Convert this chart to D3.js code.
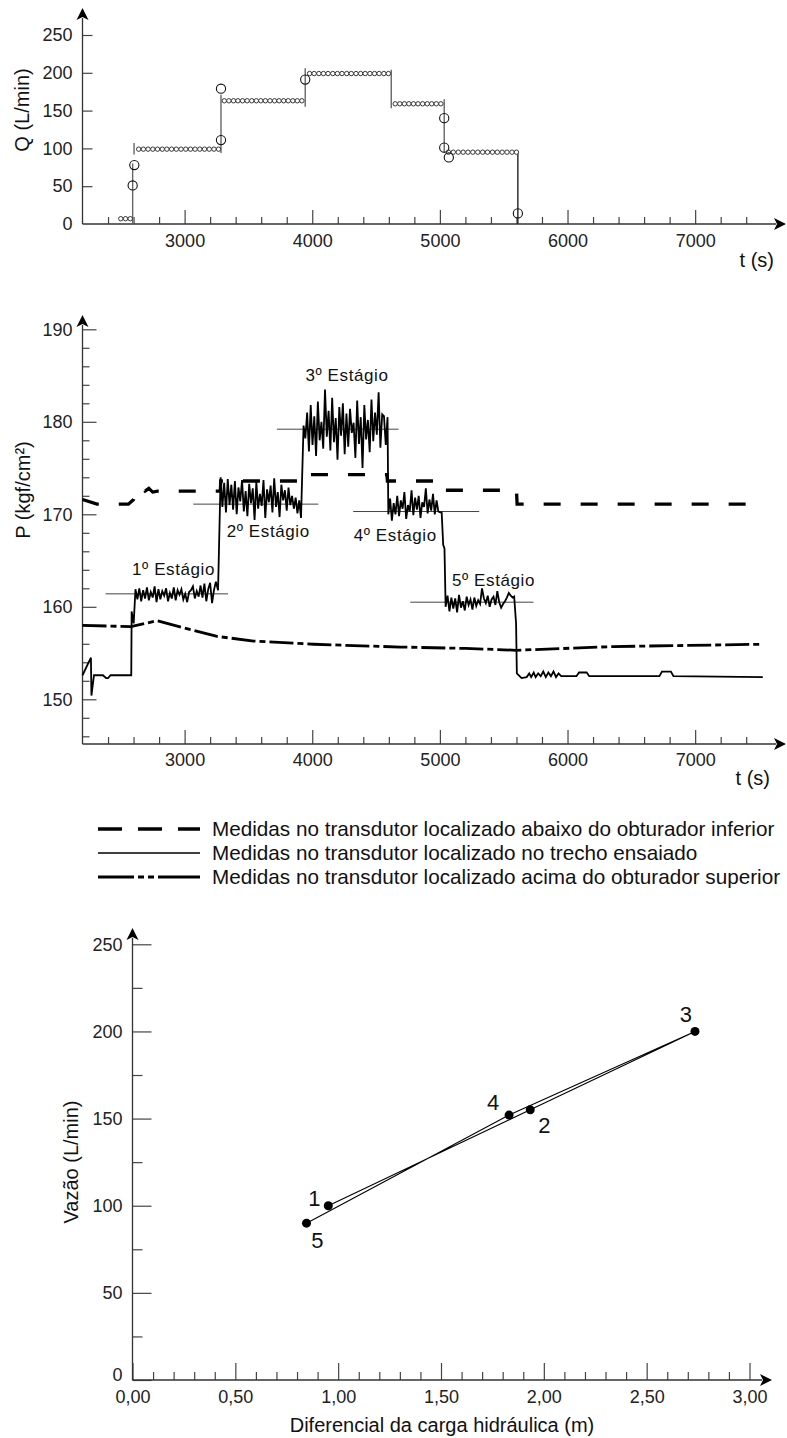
<!DOCTYPE html>
<html><head><meta charset="utf-8">
<script src="https://cdn.jsdelivr.net/npm/d3@7"></script>
<style>
body{margin:0;background:#fff;}
svg{display:block;}
</style></head><body>
<svg id="c" width="787" height="1438"></svg>
<script>
// ---------------- DATA ----------------
// time axis ticks (shared by charts 1 and 2)
const tMajorTicks = [3000, 4000, 5000, 6000, 7000];
const tMinorTicks = [2400, 2600, 2800, 3200, 3400, 3600, 3800, 4200, 4400, 4600, 4800, 5200, 5400, 5600, 5800, 6200, 6400, 6600, 6800, 7200, 7400];

// Chart 1: Q (L/min)
const qTicks = [0, 50, 100, 150, 200, 250];
const qLevelValues = [7, 99, 163, 199, 159, 95];
const qLevelTimes = [
  [2500, 2537, 2574],
  [2640, 2677, 2714, 2751, 2788, 2825, 2861, 2898, 2935, 2972, 3009, 3046, 3082, 3119, 3156, 3193, 3230, 3266],
  [3311, 3347, 3383, 3418, 3454, 3490, 3526, 3562, 3597, 3633, 3669, 3705, 3740, 3776, 3812, 3848, 3883, 3919],
  [3979, 4015, 4052, 4088, 4124, 4161, 4197, 4233, 4270, 4306, 4343, 4379, 4415, 4452, 4488, 4524, 4561, 4597],
  [4650, 4686, 4722, 4757, 4793, 4829, 4865, 4901, 4936, 4972, 5008],
  [5067, 5105, 5144, 5182, 5220, 5258, 5297, 5335, 5373, 5412, 5450, 5488, 5526, 5565, 5600]
];
const qStepT = [2593, 2604, 3285, 3945, 4619, 5034, 5611];
const qStepLow = [0, 92, 94, 155, 153, 94, 0];
const qStepHigh = [80, 107, 171, 206, 204, 165, 95];
const qTransT = [2593, 2606, 3285, 3285, 3945, 5034, 5034, 5070, 5611];
const qTransV = [51, 78, 111, 179, 191, 140, 101, 88, 14];

// Chart 2: P (kgf/cm2)
const pMajorTicks = [150, 160, 170, 180, 190];
const pMinorTicks = [146, 148, 152, 154, 156, 158, 162, 164, 166, 168, 172, 174, 176, 178, 182, 184, 186, 188];

// below lower packer (dashed)
const lowerT = [2200, 2314, 2560, 2600, 2627, 2660, 2690, 2720, 2750, 2790, 3280, 3283, 3922, 3926, 4585, 4589, 5010, 5025, 5030, 5600, 5605, 7530];
const lowerP = [171.6, 171.1, 171.1, 171.6, 172.8, 172.9, 172.5, 172.8, 172.4, 172.5, 172.5, 173.6, 173.6, 174.3, 174.3, 173.6, 173.6, 173.0, 172.6, 172.6, 171.1, 171.1];

// above upper packer (dash-dot)
const upperT = [2200, 2580, 2785, 3000, 3254, 3540, 4010, 4690, 5200, 5600, 6355, 7530];
const upperP = [158.0, 157.85, 158.5, 157.7, 156.8, 156.3, 155.95, 155.65, 155.5, 155.3, 155.7, 155.95];

// tested section (solid): transitions and noisy stages
const testPreT = [2200, 2266, 2270, 2290, 2360, 2385, 2400, 2420, 2582, 2585, 2601];
const testPreP = [152.6, 154.5, 150.4, 152.6, 152.6, 152.3, 152.3, 152.6, 152.6, 159.5, 158.2];
const stage1T0 = 2615, stage1Dt = 15;
const stage1P = [161.9, 160.8, 162.0, 160.6, 161.8, 160.9, 162.1, 160.7, 161.6, 161.0, 162.2, 160.5, 161.9, 160.8, 161.7, 161.2, 162.0, 160.6, 161.5, 160.9, 162.1, 160.7, 161.8, 161.3, 161.9, 160.8, 161.4, 160.5, 161.6, 161.8, 162.2, 160.9, 161.7, 161.1, 162.3, 161.0, 162.5, 160.6, 161.9, 162.6, 160.4, 161.8, 162.7];
const rise12T = [3262];
const rise12P = [161.8];
const stage2T0 = 3282, stage2Dt = 14;
const stage2P = [174.0, 170.8, 173.4, 170.2, 173.8, 171.0, 173.2, 170.5, 173.6, 170.0, 172.9, 171.4, 173.7, 170.3, 172.5, 169.8, 173.3, 171.2, 172.8, 169.4, 173.5, 170.6, 172.2, 170.9, 173.7, 169.6, 172.7, 171.3, 173.1, 170.2, 173.9, 170.8, 172.4, 169.7, 173.2, 171.5, 172.6, 170.4, 172.9, 171.0, 172.0, 170.6, 171.8, 170.1, 171.5, 169.6];
const stage3T0 = 3932, stage3Dt = 14;
const stage3P = [179.6, 178.2, 181.0, 176.8, 181.8, 177.5, 180.6, 176.3, 182.2, 178.0, 180.0, 177.1, 183.5, 178.4, 181.2, 176.9, 182.6, 177.8, 180.4, 175.9, 181.6, 178.5, 182.0, 176.5, 180.9, 177.3, 181.4, 178.8, 179.9, 176.1, 182.3, 177.6, 180.5, 175.0, 181.8, 178.1, 180.2, 176.7, 182.4, 177.9, 181.0, 178.6, 183.2, 177.2, 180.8, 180.6, 177.5, 180.5];
const stage4T0 = 4596, stage4Dt = 14;
const stage4P = [170.0, 171.7, 169.3, 171.2, 170.0, 172.0, 169.8, 171.5, 170.6, 172.4, 169.5, 171.0, 170.3, 172.6, 169.9, 171.8, 170.5, 172.0, 169.6, 171.3, 170.8, 172.8, 170.1, 171.6, 170.4, 172.2, 170.0, 171.5, 170.3, 170.2];
const drop45T = [5014, 5026, 5036];
const drop45P = [170.2, 166.7, 166.3];
const stage5T0 = 5045, stage5Dt = 15;
const stage5P = [160.0, 161.2, 159.5, 161.0, 159.8, 160.9, 159.4, 161.3, 159.9, 160.6, 159.6, 161.1, 160.2, 160.8, 159.7, 161.0, 160.1, 160.7, 160.3, 162.0, 160.9, 160.4, 161.2, 160.0, 160.8, 161.1, 160.2, 161.7, 160.5, 159.9, 160.3, 160.6, 161.0, 161.5, 161.2, 161.0];
const testPostT = [5582, 5597, 5603, 5640, 5680, 5700, 5715, 5735, 5750, 5770, 5790, 5810, 5830, 5850, 5870, 5890, 5910, 5930, 5950, 6070, 6090, 6150, 6170, 6720, 6740, 6810, 6830, 7530];
const testPostP = [161.1, 158.2, 152.8, 152.3, 152.4, 152.8, 152.4, 152.9, 152.4, 152.8, 152.5, 153.0, 152.4, 152.9, 152.5, 153.0, 152.4, 152.8, 152.5, 152.5, 152.9, 152.9, 152.5, 152.5, 153.0, 153.0, 152.5, 152.4];

// stage mean reference lines
const stageMeanP = [161.4, 171.1, 179.2, 170.3, 160.5];
const stageMeanT0 = [2380, 3068, 3723, 4321, 4768];
const stageMeanT1 = [3340, 4048, 4676, 5308, 5733];
const stageLabels = ["1º Estágio", "2º Estágio", "3º Estágio", "4º Estágio", "5º Estágio"];
const stageLabelT = [2913, 3655, 4272, 4650, 5420];
const stageLabelP = [163.4, 167.6, 184.4, 167.1, 162.2];

const legendLabels = [
  "Medidas no transdutor localizado abaixo do obturador inferior",
  "Medidas no transdutor localizado no trecho ensaiado",
  "Medidas no transdutor localizado acima do obturador superior"
];

// Chart 3: flow vs head differential
const pointNames = ["1", "2", "3", "4", "5"];
const headDiff = [0.952, 1.934, 2.735, 1.831, 0.846];
const flowRate = [100, 155, 200, 152, 90];
const hMajorTicks = [0, 0.5, 1.0, 1.5, 2.0, 2.5, 3.0];
const hMinorTicks = [0.1, 0.2, 0.3, 0.4, 0.6, 0.7, 0.8, 0.9, 1.1, 1.2, 1.3, 1.4, 1.6, 1.7, 1.8, 1.9, 2.1, 2.2, 2.3, 2.4, 2.6, 2.7, 2.8, 2.9];
const vMajorTicks = [0, 50, 100, 150, 200, 250];
const vMinorTicks = [25, 75, 125, 175, 225];

// ---------------- DRAWING ----------------
const FONT = '"Liberation Sans", Arial, Helvetica, sans-serif';
const svg = d3.select("#c").attr("font-family", FONT);

const xT = d3.scaleLinear().domain([2200, 7700]).range([82.5, 784.5]);
const yQ = d3.scaleLinear().domain([0, 250]).range([224, 35]);
const yP = d3.scaleLinear().domain([150, 190]).range([699.3, 329.3]);
const xH = d3.scaleLinear().domain([0, 3]).range([132.5, 749.5]);
const yV = d3.scaleLinear().domain([0, 250]).range([1380, 944.3]);

const AX = "#333";

function arrowUp(x, tip) {
  svg.append("path").attr("d", `M${x},${tip} L${x + 6},${tip + 12} L${x},${tip + 9} L${x - 6},${tip + 12} Z`).attr("fill", "#000");
}
function arrowRight(tip, y) {
  svg.append("path").attr("d", `M${tip},${y} L${tip - 12},${y - 6} L${tip - 9},${y} L${tip - 12},${y + 6} Z`).attr("fill", "#000");
}
function axisLine(x1, y1, x2, y2) {
  svg.append("line").attr("x1", x1).attr("y1", y1).attr("x2", x2).attr("y2", y2)
    .attr("stroke", AX).attr("stroke-width", 1.3);
}
function styleAxis(g) {
  g.select(".domain").remove();
  g.attr("font-size", 18).attr("font-family", FONT).attr("color", "#222");
  g.selectAll("line").attr("stroke", "#444").attr("stroke-width", 1.2);
}
function bottomAxis(scale, y, majors, minors, fmt, majLen, minLen, pad) {
  const g2 = svg.append("g").attr("transform", `translate(0,${y})`);
  g2.call(d3.axisBottom(scale).tickValues(minors).tickFormat("").tickSize(-minLen).tickSizeOuter(0));
  styleAxis(g2);
  const g = svg.append("g").attr("transform", `translate(0,${y})`);
  g.call(d3.axisBottom(scale).tickValues(majors).tickFormat(fmt).tickSize(-majLen).tickSizeOuter(0).tickPadding(pad));
  styleAxis(g);
}
function leftAxis(scale, x, majors, minors, fmt, majLen, minLen, pad) {
  if (minors) {
    const g2 = svg.append("g").attr("transform", `translate(${x},0)`);
    g2.call(d3.axisLeft(scale).tickValues(minors).tickFormat("").tickSize(-minLen).tickSizeOuter(0));
    styleAxis(g2);
  }
  const g = svg.append("g").attr("transform", `translate(${x},0)`);
  g.call(d3.axisLeft(scale).tickValues(majors).tickFormat(fmt).tickSize(-majLen).tickSizeOuter(0).tickPadding(pad));
  styleAxis(g);
  return g;
}
function title(text, x, y, rotate, anchor) {
  const t = svg.append("text").text(text).attr("font-size", 20).attr("fill", "#111")
    .attr("text-anchor", anchor || "middle");
  if (rotate) t.attr("transform", `translate(${x},${y}) rotate(-90)`).attr("dy", "0.35em");
  else t.attr("x", x).attr("y", y);
}

// ===== Chart 1 =====
bottomAxis(xT, 224, tMajorTicks, tMinorTicks, d3.format("d"), 14, 7, 10);
leftAxis(yQ, 82.5, qTicks.filter(d => d > 0), null, d3.format("d"), 10, 0, 10);
svg.append("text").text("0").attr("x", 72.5).attr("y", yQ(0)).attr("dy", "0.32em")
  .attr("text-anchor", "end").attr("font-size", 18).attr("fill", "#222");
axisLine(82.5, 224, 776, 224);
axisLine(82.5, 224, 82.5, 18);
arrowUp(82.5, 8);
arrowRight(786, 224);
title("Q (L/min)", 22, 110, true);
title("t (s)", 774, 267, false, "end");

// vertical transitions
qStepT.forEach((t, i) => {
  svg.append("line").attr("x1", xT(t)).attr("x2", xT(t))
    .attr("y1", yQ(qStepLow[i])).attr("y2", yQ(qStepHigh[i]))
    .attr("stroke", i === qStepT.length - 1 ? "#222" : "#666").attr("stroke-width", 1.4);
});
// level circles
qLevelTimes.forEach((ts, i) => {
  svg.append("g").selectAll("circle").data(ts).join("circle")
    .attr("cx", d => xT(d)).attr("cy", yQ(qLevelValues[i])).attr("r", 2.2)
    .attr("fill", "#fff").attr("stroke", "#222").attr("stroke-width", 0.9);
});
// transition circles
svg.append("g").selectAll("circle").data(qTransT).join("circle")
  .attr("cx", d => xT(d)).attr("cy", (d, i) => yQ(qTransV[i])).attr("r", 4.6)
  .attr("fill", "none").attr("stroke", "#111").attr("stroke-width", 1.1);

// ===== Chart 2 =====
bottomAxis(xT, 744, tMajorTicks, tMinorTicks, d3.format("d"), 14, 7, 9);
leftAxis(yP, 82.5, pMajorTicks, pMinorTicks, d3.format("d"), 14, 7, 10);
axisLine(82.5, 744, 776, 744);
axisLine(82.5, 744, 82.5, 325);
arrowUp(82.5, 315);
arrowRight(786, 744);
title("P (kgf/cm²)", 23, 490, true);
title("t (s)", 770, 785, false, "end");

const lineP = d3.line().x(d => xT(d[0])).y(d => yP(d[1]));

// mean lines
stageMeanP.forEach((p, i) => {
  svg.append("line").attr("x1", xT(stageMeanT0[i])).attr("x2", xT(stageMeanT1[i]))
    .attr("y1", yP(p)).attr("y2", yP(p)).attr("stroke", "#444").attr("stroke-width", 1);
});

// upper (dash-dot)
svg.append("path").attr("d", lineP(upperT.map((t, i) => [t, upperP[i]])))
  .attr("fill", "none").attr("stroke", "#000").attr("stroke-width", 2.8)
  .attr("stroke-dasharray", "24,4,6,4");
// lower (dashed)
svg.append("path").attr("d", lineP(lowerT.map((t, i) => [t, lowerP[i]])))
  .attr("fill", "none").attr("stroke", "#000").attr("stroke-width", 3.3)
  .attr("stroke-dasharray", "17,20");

// tested section (solid)
const stageSeq = (t0, dt, arr) => arr.map((p, i) => [t0 + i * dt, p]);
const pairs = (T, P) => T.map((t, i) => [t, P[i]]);
const testPts = [].concat(
  pairs(testPreT, testPreP),
  stageSeq(stage1T0, stage1Dt, stage1P),
  pairs(rise12T, rise12P),
  stageSeq(stage2T0, stage2Dt, stage2P),
  stageSeq(stage3T0, stage3Dt, stage3P),
  stageSeq(stage4T0, stage4Dt, stage4P),
  pairs(drop45T, drop45P),
  stageSeq(stage5T0, stage5Dt, stage5P),
  pairs(testPostT, testPostP)
);
svg.append("path").attr("d", lineP(testPts))
  .attr("fill", "none").attr("stroke", "#000").attr("stroke-width", 1.8)
  .attr("stroke-linejoin", "miter");

// stage labels
stageLabels.forEach((s, i) => {
  svg.append("text").text(s).attr("x", xT(stageLabelT[i])).attr("y", yP(stageLabelP[i]))
    .attr("text-anchor", "middle").attr("font-size", 17).attr("letter-spacing", 0.6).attr("fill", "#111");
});

// ===== Legend =====
const legendDash = ["24,16", null, "36,4,6,4,6,4,60"];
const legendWidth = [3.3, 1.6, 2.8];
legendLabels.forEach((s, i) => {
  const y = 829 + i * 24;
  const ln = svg.append("line").attr("x1", 98).attr("x2", 200).attr("y1", y).attr("y2", y)
    .attr("stroke", "#000").attr("stroke-width", legendWidth[i]);
  if (legendDash[i]) ln.attr("stroke-dasharray", legendDash[i]);
  svg.append("text").text(s).attr("x", 212).attr("y", y + 7).attr("font-size", 20.7).attr("fill", "#111");
});

// ===== Chart 3 =====
const commaFmt = d => d.toFixed(2).replace(".", ",");
bottomAxis(xH, 1380, hMajorTicks, hMinorTicks, commaFmt, 17, 8, 10);
const gV = leftAxis(yV, 132.5, vMajorTicks, vMinorTicks, d3.format("d"), 19, 10, 10);
// lift the "0" label slightly so it clears the "0,00" below
gV.selectAll(".tick").filter(d => d === 0).select("text").attr("dy", "0.05em");
axisLine(132.5, 1380, 762, 1380);
axisLine(132.5, 1380, 132.5, 938);
arrowUp(132.5, 928);
arrowRight(772, 1380);
title("Vazão (L/min)", 71, 1162, true);
title("Diferencial da carga hidráulica (m)", 442, 1432, false);

const lineH = d3.line().x(d => xH(d[0])).y(d => yV(d[1]));
svg.append("path").attr("d", lineH(headDiff.map((h, i) => [h, flowRate[i]])))
  .attr("fill", "none").attr("stroke", "#000").attr("stroke-width", 1.1);
svg.append("g").selectAll("circle").data(headDiff).join("circle")
  .attr("cx", d => xH(d)).attr("cy", (d, i) => yV(flowRate[i])).attr("r", 4.5).attr("fill", "#000");
const labelOffsets = [[-14, 0], [14, 23], [-9, -9], [-16, -5], [11, 25]];
pointNames.forEach((n, i) => {
  svg.append("text").text(n).attr("x", xH(headDiff[i]) + labelOffsets[i][0])
    .attr("y", yV(flowRate[i]) + labelOffsets[i][1])
    .attr("text-anchor", "middle").attr("font-size", 22).attr("fill", "#111");
});
</script>
</body></html>
